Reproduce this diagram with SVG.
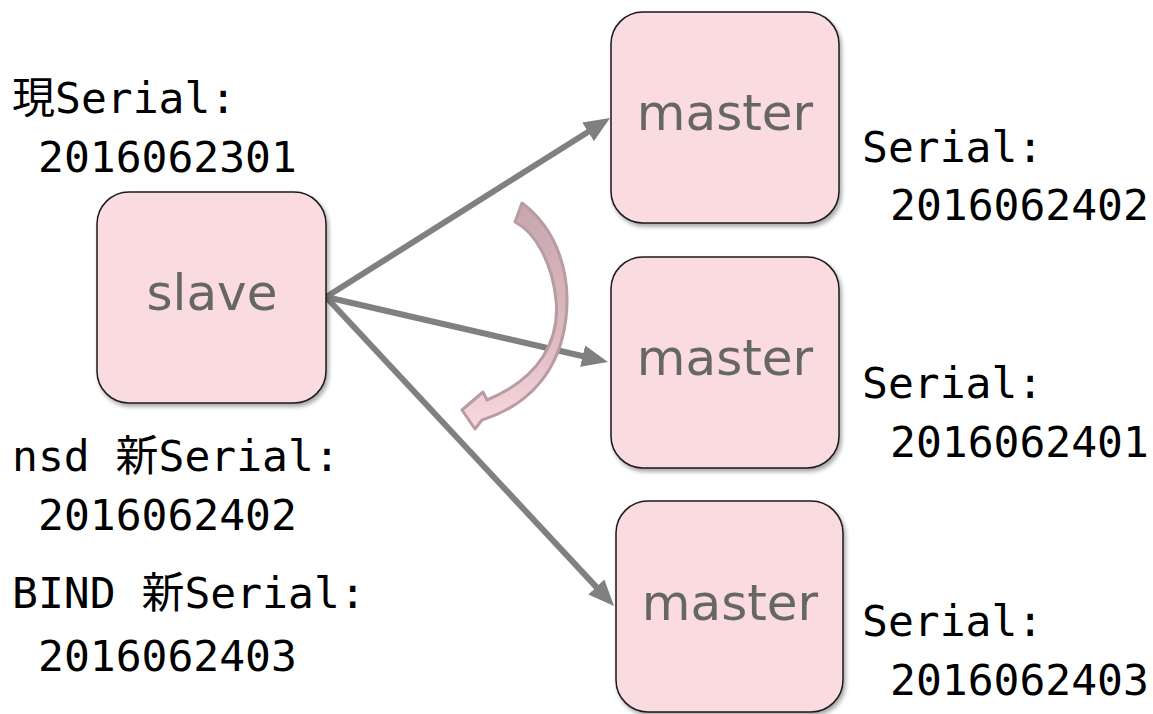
<svg xmlns="http://www.w3.org/2000/svg" width="1153" height="714" viewBox="0 0 1153 714">
  <style>
    .box { fill: #FADBE0; stroke: #1a1a1a; stroke-width: 1.5; filter: url(#shadow); }
    .lbl { font-family: "DejaVu Sans", "Noto Sans", sans-serif; font-size: 50px; fill: #666666; text-anchor: middle; }
    .ser { font-family: "DejaVu Sans Mono", "Liberation Mono", "Noto Sans CJK JP", monospace; font-size: 43px; fill: #000000; }
    .conn { stroke: #808080; stroke-width: 6; fill: none; marker-end: url(#arrow); }
  </style>
  <defs>
    <filter id="shadow" x="-10%" y="-10%" width="125%" height="125%">
      <feDropShadow dx="2" dy="3" stdDeviation="2" flood-color="#000000" flood-opacity="0.35"/>
    </filter>
    <marker id="arrow" markerUnits="userSpaceOnUse" markerWidth="28" markerHeight="24" viewBox="0 0 28 24" refX="6" refY="12" orient="auto">
      <path d="M0,1 L26,12 L0,23 Z" fill="#808080"/>
    </marker>
    <linearGradient id="curveFill" x1="0" y1="0" x2="0" y2="1">
      <stop offset="0" stop-color="#C7A7AD"/>
      <stop offset="0.6" stop-color="#DDBBC1"/>
      <stop offset="1" stop-color="#F9D9DF"/>
    </linearGradient>
  </defs>

  <g id="connectors">
    <line class="conn" x1="326" y1="297" x2="593.1" y2="128.7"/>
    <line class="conn" x1="326" y1="297" x2="588.5" y2="357.5"/>
    <line class="conn" x1="326" y1="297" x2="600.4" y2="591.4"/>
  </g>

  <g id="slave">
    <rect class="box" x="97" y="192" width="229" height="211" rx="32" ry="32"/>
    <text class="lbl" x="212" y="310">slave</text>
  </g>

  <g id="master1">
    <rect class="box" x="611" y="12" width="228" height="211" rx="32" ry="32"/>
    <text class="lbl" x="725" y="130">master</text>
  </g>

  <g id="master2">
    <rect class="box" x="611" y="257" width="228" height="211" rx="32" ry="32"/>
    <text class="lbl" x="725" y="375">master</text>
  </g>

  <g id="master3">
    <rect class="box" x="616" y="501" width="227" height="211" rx="32" ry="32"/>
    <text class="lbl" x="730" y="620">master</text>
  </g>

  <g id="curved-arrow">
    <path d="M 522 203 L 515 222 C 535 232, 552 262, 556 300 C 560 340, 540 378, 487 400 L 483 392 L 462 410 L 475 429 L 482 420 C 530 405, 560 370, 566 318 C 571 275, 558 230, 522 203 Z" fill="url(#curveFill)" stroke="#B89CA2" stroke-width="3" stroke-linejoin="round"/>
  </g>

  <g id="labels">
    <text class="ser" x="12" y="113">現Serial:</text>
    <text class="ser" x="38" y="172">2016062301</text>
    <text class="ser" x="12" y="471">nsd 新Serial:</text>
    <text class="ser" x="38" y="530">2016062402</text>
    <text class="ser" x="12" y="608">BIND 新Serial:</text>
    <text class="ser" x="38" y="671">2016062403</text>
    <text class="ser" x="862" y="162">Serial:</text>
    <text class="ser" x="890" y="220">2016062402</text>
    <text class="ser" x="862" y="398">Serial:</text>
    <text class="ser" x="890" y="457">2016062401</text>
    <text class="ser" x="862" y="636">Serial:</text>
    <text class="ser" x="890" y="695">2016062403</text>
  </g>
</svg>
